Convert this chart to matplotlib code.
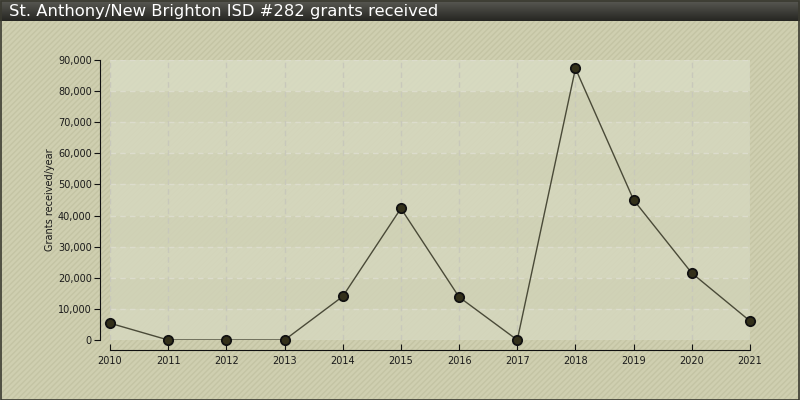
import numpy as np
import matplotlib
matplotlib.use("Agg")
import matplotlib.pyplot as plt
from matplotlib.patches import Rectangle
from matplotlib.ticker import FuncFormatter

years = [2010, 2011, 2012, 2013, 2014, 2015, 2016, 2017, 2018, 2019, 2020, 2021]
grants = [5400, 0, 0, 0, 14000, 42300, 13800, 0, 87300, 45000, 21500, 6100]

title = "St. Anthony/New Brighton ISD #282 grants received"
ylabel = "Grants received/year"

fig = plt.figure(figsize=(8, 4), dpi=100)
fig.patch.set_facecolor("#cfcfb0")

# hatched background
bg = Rectangle((0, 0), 1, 1, transform=fig.transFigure, facecolor="#cfcfb0",
               edgecolor="#c4c4a4", hatch="//////", linewidth=0, zorder=-10)
fig.patches.append(bg)
border = Rectangle((0.001, 0.001), 0.998, 0.997, transform=fig.transFigure,
                   fill=False, edgecolor="#3a3a30", linewidth=1.2, zorder=5)
fig.patches.append(border)

# title bar with gradient
tax = fig.add_axes([0, 0.948, 1, 0.052])
grad = np.linspace(0, 1, 50).reshape(-1, 1)
tax.imshow(grad, aspect="auto", cmap=matplotlib.colors.LinearSegmentedColormap.from_list(
    "tb", ["#5a5a54", "#262622"]), extent=[0, 1, 0, 1])
tax.set_axis_off()
tax.text(0.011, 0.45, title, color="white", fontsize=11.8, va="center", ha="left",
         transform=tax.transAxes)

ax = fig.add_axes([110 / 800, 60 / 400, 640 / 800, 280 / 400])
ax.set_facecolor("none")
ax.set_xlim(2010, 2021)
ax.set_ylim(0, 90000)

# alternating bands
for i in range(9):
    col = "#d6d8bf" if i % 2 == 0 else "#d1d3b8"
    if i == 8:
        col = "#d9dcc4"
    ax.axhspan(i * 10000, (i + 1) * 10000, color=col, alpha=0.85, zorder=0, linewidth=0)
for i in range(10):
    ax.axhline(i * 10000, color="#dcdccc", linestyle=(0, (4, 3)), linewidth=1, zorder=1)
for y in years:
    ax.axvline(y, color="#c8c8bb", linestyle=(0, (4, 3)), linewidth=1, zorder=1)

ax.plot(years, grants, color="#4a4a38", linewidth=1, zorder=3)
ax.scatter(years, grants, s=45, color="#33301a", edgecolors="#111111", linewidths=1.3,
           zorder=4, clip_on=False)

ax.set_xticks(years)
ax.set_yticks(range(0, 90001, 10000))
ax.yaxis.set_major_formatter(FuncFormatter(lambda v, p: f"{int(v):,}"))
for s in ["top", "right"]:
    ax.spines[s].set_visible(False)
ax.spines["left"].set_position(("outward", 7.2))
ax.spines["bottom"].set_position(("outward", 7.2))
ax.spines["left"].set_color("#111111")
ax.spines["bottom"].set_color("#111111")
ax.tick_params(labelsize=7, length=4, color="#111111", labelcolor="#1a1a1a", pad=2)
ax.tick_params(axis="x", direction="in", pad=4)
ax.set_ylabel(ylabel, fontsize=7, color="#1a1a1a", labelpad=2)

fig.savefig("out.png", dpi=100, facecolor=fig.get_facecolor())
